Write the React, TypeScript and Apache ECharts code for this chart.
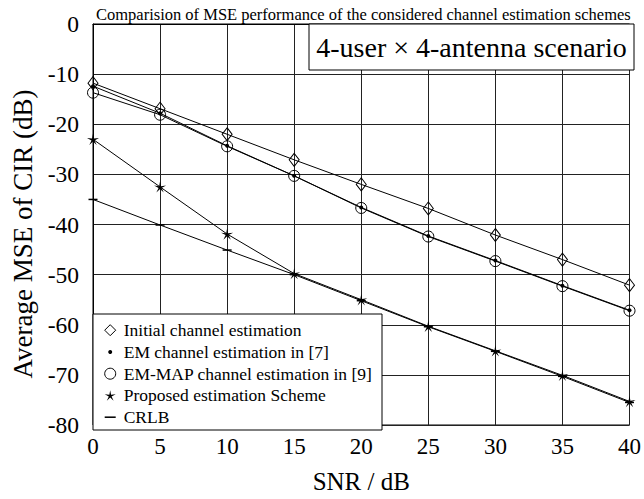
import React, { useEffect, useRef } from "react";
import * as echarts from "echarts";

const snr = [0, 5, 10, 15, 20, 25, 30, 35, 40];
const initialEst = [-11.8, -16.9, -22.0, -27.1, -32.0, -36.8, -42.1, -47.0, -52.1];
const emEst = [-12.4, -17.8, -24.3, -30.3, -36.6, -42.3, -47.2, -52.2, -57.1];
const emMapEst = [-13.7, -18.1, -24.4, -30.3, -36.7, -42.4, -47.3, -52.3, -57.2];
const proposedEst = [-23.0, -32.5, -41.9, -49.8, -55.0, -60.3, -65.2, -70.1, -75.3];
const crlb = [-35.0, -40.1, -45.1, -50.0, -55.2, -60.4, -65.3, -70.3, -75.5];

const seriesNames = [
  "Initial channel estimation",
  "EM channel estimation in [7]",
  "EM-MAP channel estimation in [9]",
  "Proposed estimation Scheme",
  "CRLB",
];
const titleText = "Comparision of MSE performance of the considered channel estimation schemes";
const scenarioText = "4-user \u00d7 4-antenna scenario";
const yName = "Average MSE of CIR (dB)";
const xName = "SNR / dB";

const FONT = "'Liberation Serif', 'Times New Roman', serif";
const STAR =
  "path://M100,0 L114.7,79.8 L195.1,69.1 L123.8,107.7 L158.8,180.9 L100,125 L41.2,180.9 L76.2,107.7 L4.9,69.1 L85.3,79.8 Z";
const DASH = "path://M0,0 L10,0 L10,1.4 L0,1.4 Z";

const toPairs = (ys: number[]) => snr.map((x, i) => [x, ys[i]]);

export default function App() {
  const ref = useRef<HTMLDivElement>(null);
  useEffect(() => {
    if (!ref.current) return;
    const chart = echarts.init(ref.current, null, { renderer: "svg" });
    const base = {
      type: "line",
      color: "#000",
      lineStyle: { color: "#000", width: 1 },
      z: 2,
    };
    chart.setOption({
      animation: false,
      backgroundColor: "#fff",
      textStyle: { fontFamily: FONT, color: "#000" },
      title: {
        text: titleText,
        left: 96,
        top: 6,
        padding: 0,
        textStyle: { fontFamily: FONT, fontSize: 16.5, fontWeight: "normal", color: "#000" },
      },
      grid: {
        left: 93,
        right: 10,
        top: 24,
        bottom: 69,
        show: true,
        borderColor: "#000",
        borderWidth: 1,
      },
      xAxis: {
        type: "value",
        min: 0,
        max: 40,
        interval: 5,
        name: xName,
        nameLocation: "middle",
        nameGap: 44,
        nameTextStyle: { fontFamily: FONT, fontSize: 25, color: "#000" },
        axisLine: { show: true, lineStyle: { color: "#000", width: 1 } },
        axisTick: { show: false },
        axisLabel: { fontFamily: FONT, fontSize: 23, color: "#000", margin: 10 },
        splitLine: { show: true, lineStyle: { color: "#222", width: 1 } },
      },
      yAxis: {
        type: "value",
        min: -80,
        max: 0,
        interval: 10,
        axisLine: { show: true, lineStyle: { color: "#000", width: 1 } },
        axisTick: { show: false },
        axisLabel: { fontFamily: FONT, fontSize: 23.5, color: "#000", margin: 14 },
        splitLine: { show: true, lineStyle: { color: "#222", width: 1 } },
      },
      legend: {
        orient: "vertical",
        left: 101.2,
        top: 321.2,
        z: 60,
        itemWidth: 11,
        itemHeight: 11,
        itemGap: 3.75,
        padding: 0,
        textStyle: {
          fontFamily: FONT,
          fontSize: 17.5,
          color: "#000",
          lineHeight: 17.5,
          padding: [0, 0, 0, 3],
        },
        data: [
          {
            name: seriesNames[0],
            icon: "diamond",
            itemStyle: { color: "#fff", borderColor: "#000", borderWidth: 1 },
          },
          {
            name: seriesNames[1],
            icon: "circle",
            itemStyle: { color: "#000", borderColor: "#fff", borderWidth: 7 },
          },
          {
            name: seriesNames[2],
            icon: "circle",
            itemStyle: { color: "#fff", borderColor: "#000", borderWidth: 1 },
          },
          {
            name: seriesNames[3],
            icon: STAR,
            itemStyle: { color: "#000", borderWidth: 0 },
          },
          {
            name: seriesNames[4],
            icon: DASH,
            itemStyle: { color: "#000", borderWidth: 0 },
          },
        ],
      },
      graphic: [
        {
          type: "rect",
          z: 50,
          shape: { x: 93, y: 314, width: 289, height: 116 },
          style: { fill: "#fff", stroke: "#000", lineWidth: 1 },
        },
        {
          type: "rect",
          z: 50,
          shape: { x: 309, y: 24, width: 325, height: 46 },
          style: { fill: "#fff", stroke: "#000", lineWidth: 1 },
        },
        {
          type: "text",
          z: 51,
          x: 471.5,
          y: 47,
          style: {
            text: scenarioText,
            fontFamily: FONT,
            fontSize: 28,
            fill: "#000",
            align: "center",
            verticalAlign: "middle",
          },
        },
        {
          type: "text",
          z: 51,
          x: 23,
          y: 234,
          rotation: Math.PI / 2,
          style: {
            text: yName,
            fontFamily: FONT,
            fontSize: 27,
            fill: "#000",
            align: "center",
            verticalAlign: "middle",
          },
        },
      ],
      series: [
        {
          ...base,
          name: seriesNames[0],
          data: toPairs(initialEst),
          symbol: "diamond",
          symbolSize: [10, 13],
          itemStyle: { color: "none", borderColor: "#000", borderWidth: 1 },
        },
        {
          ...base,
          name: seriesNames[1],
          z: 4,
          data: toPairs(emEst),
          symbol: "circle",
          symbolSize: 4,
          itemStyle: { color: "#000" },
        },
        {
          ...base,
          name: seriesNames[2],
          data: toPairs(emMapEst),
          symbol: "circle",
          symbolSize: 11,
          itemStyle: { color: "none", borderColor: "#000", borderWidth: 1 },
        },
        {
          ...base,
          name: seriesNames[3],
          data: toPairs(proposedEst),
          symbol: STAR,
          symbolSize: 12,
          symbolKeepAspect: true,
          itemStyle: { color: "#000" },
        },
        {
          ...base,
          name: seriesNames[4],
          data: toPairs(crlb),
          symbol: "rect",
          symbolSize: [9, 1.5],
          itemStyle: { color: "#000" },
        },
      ],
    });
    return () => chart.dispose();
  }, []);
  return (
    <div
      ref={ref}
      style={{ position: "fixed", left: 0, top: 0, width: 644, height: 499 }}
    />
  );
}
